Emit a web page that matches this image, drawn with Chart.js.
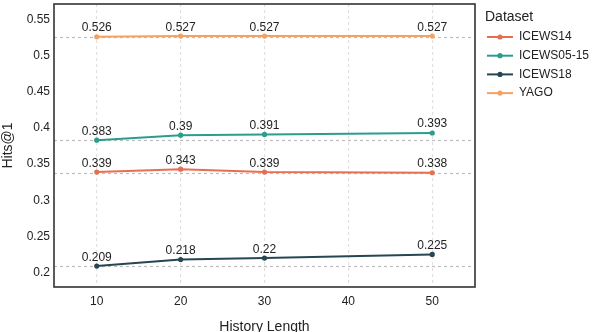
<!DOCTYPE html>
<html>
<head>
<meta charset="utf-8">
<script src="https://cdn.jsdelivr.net/npm/chart.js@4.4.1/dist/chart.umd.min.js"></script>
<style>
  html, body { margin: 0; padding: 0; background: #fff; }
  canvas { display: block; }
</style>
</head>
<body>
<canvas id="myChart" width="592" height="332"></canvas>
<script>
const historyLengths = [10, 20, 30, 50];
const datasetNames = ['ICEWS14', 'ICEWS05-15', 'ICEWS18', 'YAGO'];
const icews14 = [0.339, 0.343, 0.339, 0.338];
const icews0515 = [0.383, 0.39, 0.391, 0.393];
const icews18 = [0.209, 0.218, 0.22, 0.225];
const yago = [0.526, 0.527, 0.527, 0.527];
const xTicks = [10, 20, 30, 40, 50];
const yTicks = [0.2, 0.25, 0.3, 0.35, 0.4, 0.45, 0.5, 0.55];

const font = '"Liberation Sans", Arial, sans-serif';
const palette = {
  ICEWS14: '#E76F51',
  'ICEWS05-15': '#2A9D8F',
  ICEWS18: '#264653',
  YAGO: '#F4A261',
};
const seriesValues = [icews14, icews0515, icews18, yago];

// Dashed reference line at each series' minimum, labels above points, frame and legend
const extrasPlugin = {
  id: 'extras',
  beforeDatasetsDraw(chart) {
    const { ctx, chartArea, scales } = chart;
    ctx.save();
    ctx.strokeStyle = '#bdbdbd';
    ctx.lineWidth = 1.2;
    ctx.setLineDash([3, 3]);
    seriesValues.forEach((vals) => {
      const y = Math.round(scales.y.getPixelForValue(Math.min(...vals))) + 0.5;
      ctx.beginPath();
      ctx.moveTo(chartArea.left, y);
      ctx.lineTo(chartArea.right, y);
      ctx.stroke();
    });
    ctx.restore();
  },
  afterDatasetsDraw(chart) {
    const { ctx, chartArea } = chart;
    ctx.save();
    ctx.font = `12px ${font}`;
    ctx.fillStyle = '#222';
    ctx.textAlign = 'center';
    ctx.textBaseline = 'alphabetic';
    chart.data.datasets.forEach((ds, i) => {
      chart.getDatasetMeta(i).data.forEach((pt, j) => {
        ctx.fillText(String(ds.data[j].y), pt.x, pt.y - 5.5);
      });
    });

    // panel frame
    ctx.strokeStyle = '#333';
    ctx.lineWidth = 1.6;
    ctx.strokeRect(chartArea.left, chartArea.top, chartArea.right - chartArea.left, chartArea.bottom - chartArea.top);

    // legend
    ctx.textAlign = 'left';
    ctx.textBaseline = 'middle';
    ctx.font = `14px ${font}`;
    ctx.fillText('Dataset', 485, 17);
    ctx.font = `12px ${font}`;
    chart.data.datasets.forEach((ds, i) => {
      const y = 37 + i * 18.7;
      ctx.strokeStyle = ds.borderColor;
      ctx.lineWidth = 2;
      ctx.beginPath();
      ctx.moveTo(487, y);
      ctx.lineTo(513, y);
      ctx.stroke();
      ctx.fillStyle = ds.borderColor;
      ctx.beginPath();
      ctx.arc(500, y, 2.6, 0, Math.PI * 2);
      ctx.fill();
      ctx.fillStyle = '#222';
      ctx.fillText(ds.label, 519, y);
    });
    ctx.restore();
  },
};

const ctx = document.getElementById('myChart').getContext('2d');
const myChart = new Chart(ctx, {
  type: 'line',
  data: {
    datasets: datasetNames.map((name, i) => ({
      label: name,
      data: historyLengths.map((x, j) => ({ x: x, y: seriesValues[i][j] })),
      borderColor: palette[name],
      backgroundColor: palette[name],
      borderWidth: 2,
      pointRadius: 2.6,
      pointBorderWidth: 0,
      tension: 0,
    })),
  },
  options: {
    responsive: false,
    animation: false,
    layout: { padding: { left: 0, top: 2, right: 117, bottom: 0 } },
    plugins: {
      legend: { display: false },
      tooltip: { enabled: false },
    },
    scales: {
      x: {
        type: 'linear',
        min: 4.9,
        max: 55.1,
        afterBuildTicks: (scale) => {
          scale.ticks = xTicks.map((v) => ({ value: v }));
        },
        afterFit: (scale) => {
          scale.height = 45;
          scale.paddingLeft = 0;
          scale.paddingRight = 0;
        },
        grid: {
          color: '#e0e0e0',
          lineWidth: 1.2,
          drawTicks: false,
        },
        border: { display: false, dash: [3, 3] },
        ticks: {
          color: '#222',
          font: { family: font, size: 12 },
          padding: 7,
          callback: (v) => String(v),
        },
        title: {
          display: true,
          text: 'History Length',
          color: '#222',
          font: { family: font, size: 14 },
          padding: { top: 0, bottom: -4 },
        },
      },
      y: {
        min: 0.18,
        max: 0.5714,
        afterBuildTicks: (scale) => {
          scale.ticks = yTicks.map((v) => ({ value: v }));
        },
        afterFit: (scale) => {
          scale.width = 54;
          scale.paddingTop = 0;
          scale.paddingBottom = 0;
        },
        grid: { display: false, drawTicks: false },
        border: { display: false },
        ticks: {
          color: '#222',
          font: { family: font, size: 12 },
          padding: 4,
          callback: (v) => String(v),
        },
        title: {
          display: true,
          text: 'Hits@1',
          color: '#222',
          font: { family: font, size: 14 },
          padding: { top: 0, bottom: 0 },
        },
      },
    },
  },
  plugins: [extrasPlugin],
});
</script>
</body>
</html>
